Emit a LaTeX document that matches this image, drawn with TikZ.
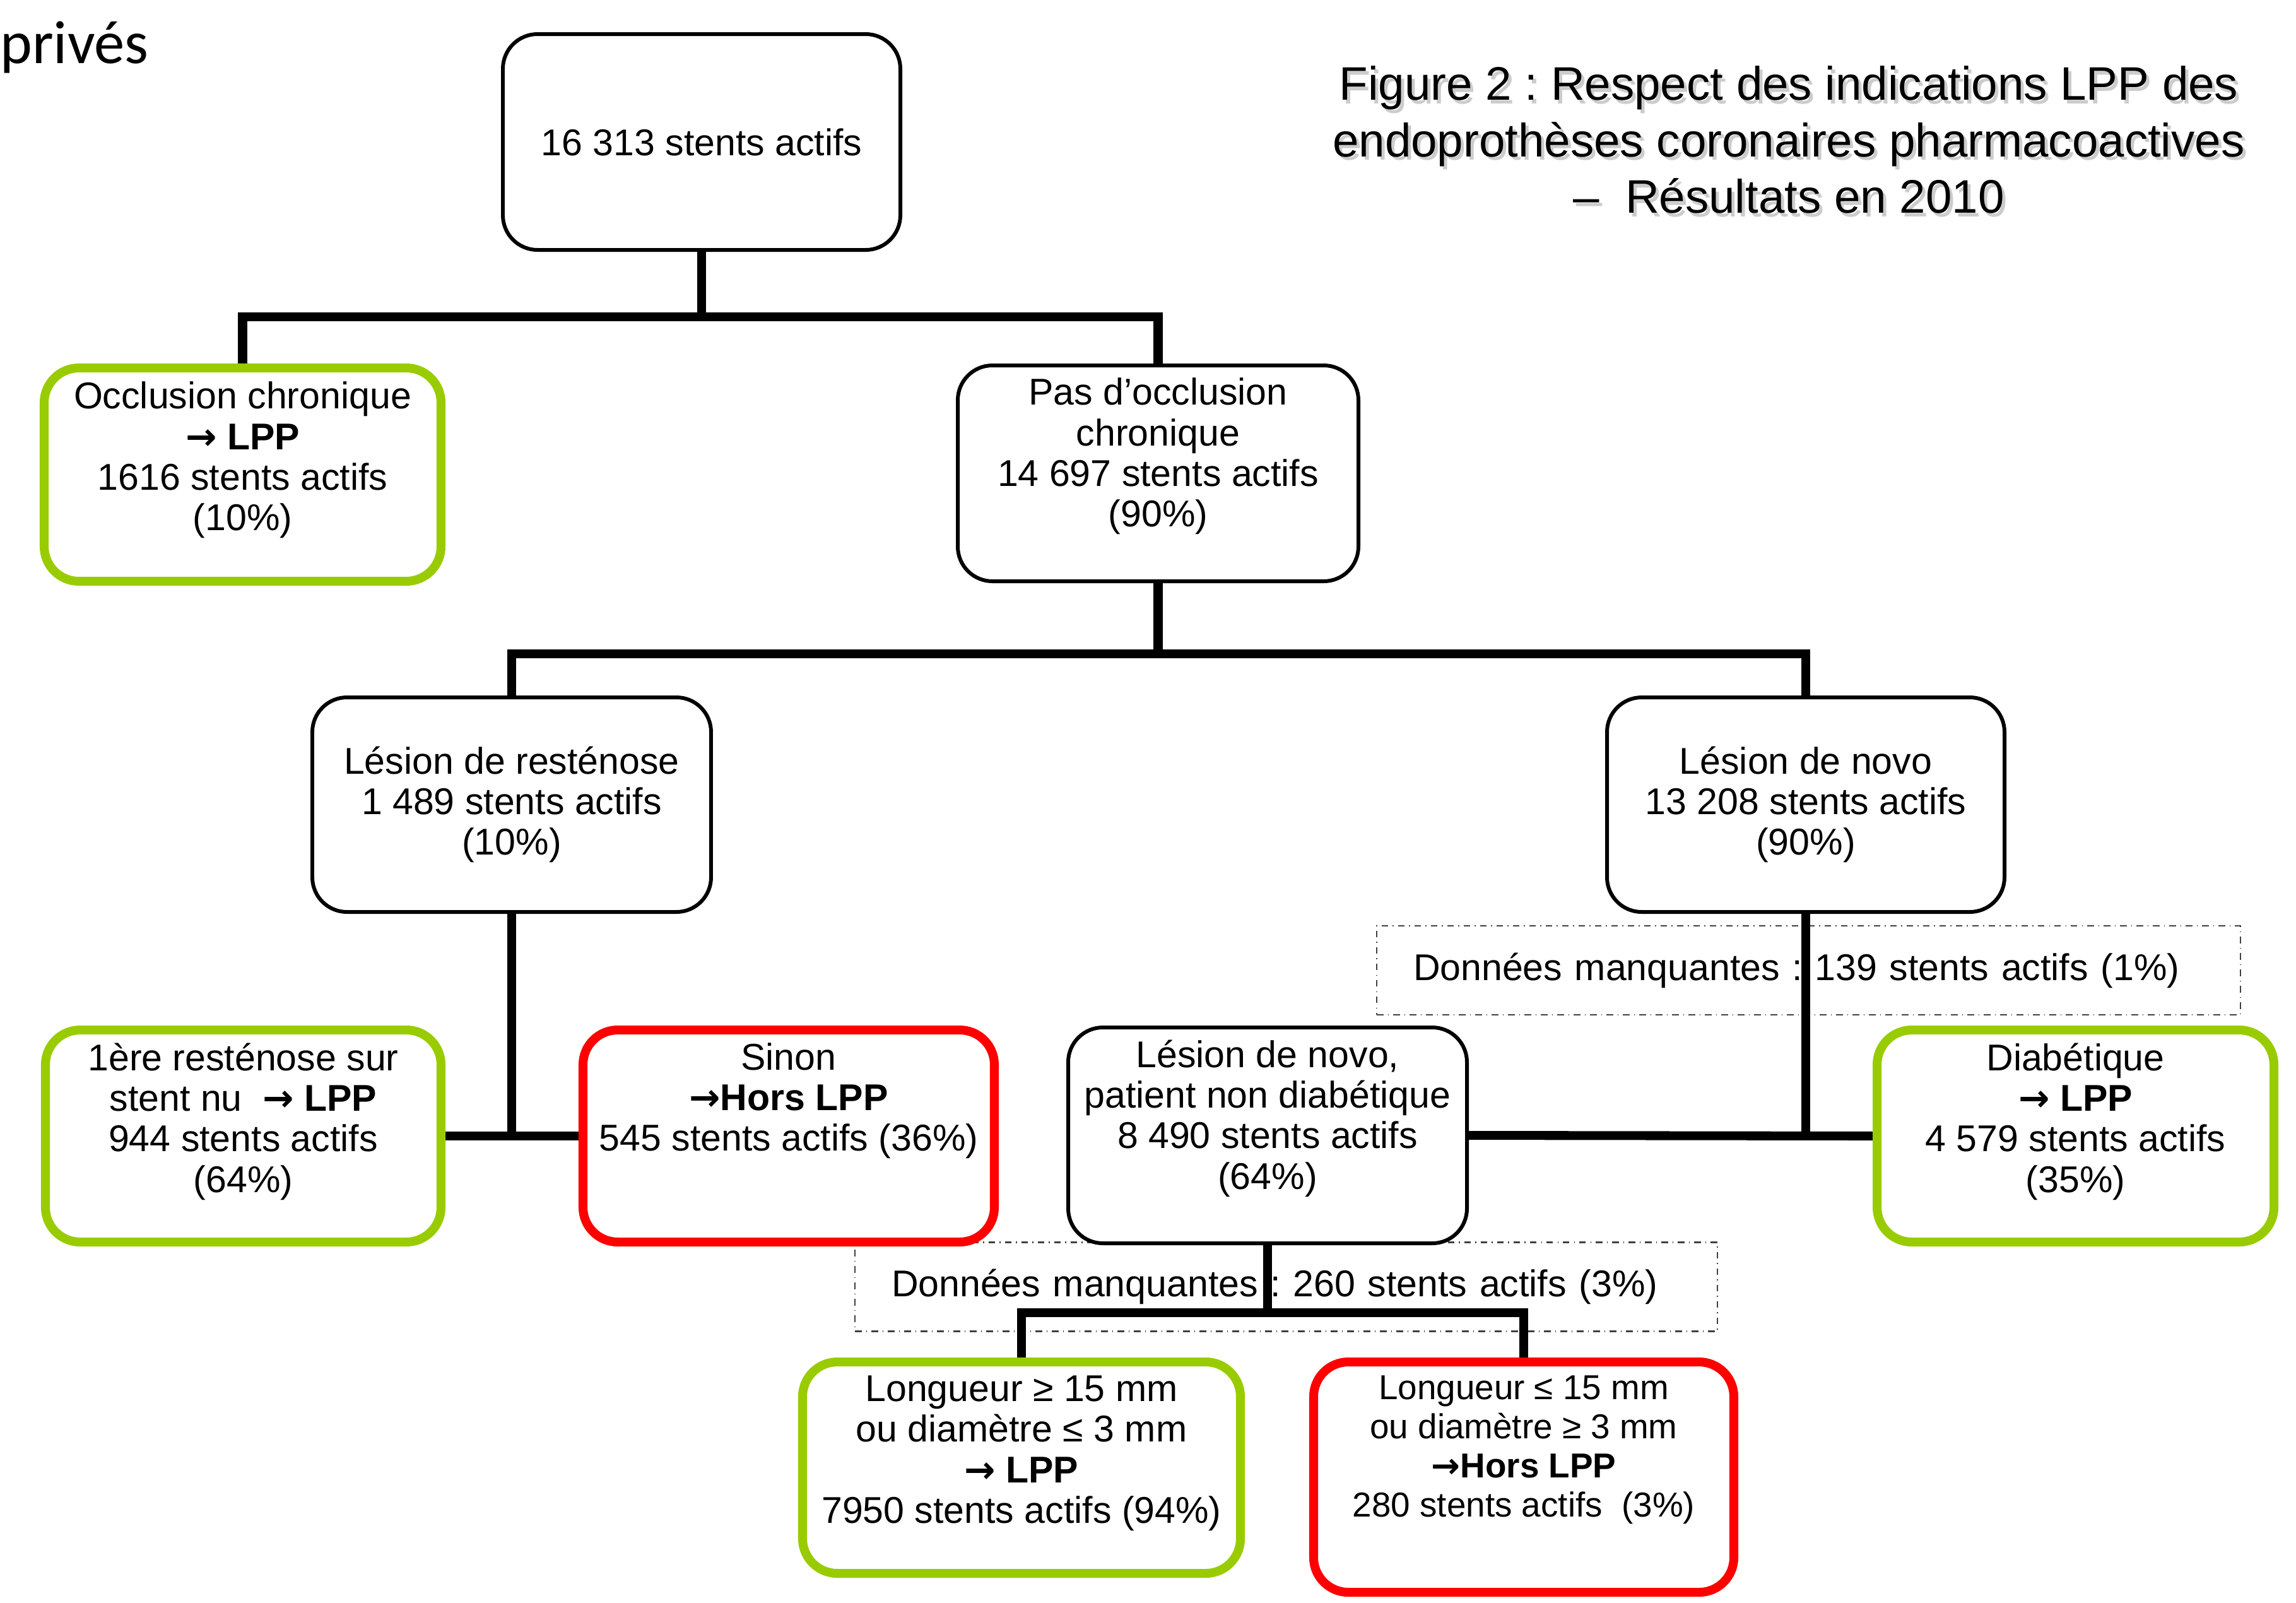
\documentclass[tikz,border=0pt]{standalone}
\usepackage{fontspec}
\setmainfont{Liberation Sans}
\newfontfamily\slidefont{Carlito}
\newfontfamily\arrowfont{DejaVu Sans}
\usetikzlibrary{positioning,backgrounds}
\frenchspacing

\definecolor{lppgreen}{HTML}{99CC00}
\definecolor{horsred}{HTML}{FF0000}
\definecolor{dashgray}{HTML}{404040}

\newcommand{\boxfont}{\fontsize{16.8}{18.3}\selectfont}
\newcommand{\smallboxfont}{\fontsize{15.6}{17.6}\selectfont}
\newcommand{\lpparrow}{{\arrowfont\bfseries →}}
% invisible strut that lifts the text inside a box
\newcommand{\dropstrut}[1]{\rule[-#1]{0pt}{#1}}

\tikzset{
    % Base box style
    stat box/.style={
        rectangle,
        rounded corners=0.55cm,
        align=center,
        font=\boxfont,
        draw=#1,
        fill=white,
        line width=1.7pt,
        inner sep=2pt
    },
    stat box/.default=black,
    % Box inside the LPP indications
    lpp box/.style={stat box=lppgreen, line width=4pt},
    % Box outside the LPP indications
    hors box/.style={stat box=horsred, line width=4pt},
    % Missing data frame
    missing/.style={
        rectangle,
        draw=dashgray,
        dash dot,
        line width=0.6pt,
        font=\boxfont,
        align=left,
        inner xsep=0.58cm,
        minimum height=1.41cm
    },
    % Tree connector
    link/.style={line width=4pt, draw=black},
    % Title
    title text/.style={
        font=\fontsize{21.2}{25.5}\selectfont,
        align=center
    }
}

\begin{document}
\begin{tikzpicture}
    \useasboundingbox (0,0) rectangle (36.39,-25.39);

    % Slide leftover and title
    \node[anchor=base west, font=\slidefont\fontsize{27.5}{33}\selectfont] (prives) at (-0.12,-1.00) {privés};
    \node[title text, text=gray!40] (titleshadow) at (28.40,-2.27) {Figure 2 : Respect des indications LPP des\\ endoprothèses coronaires pharmacoactives\\ –\ \ Résultats en 2010};
    \node[title text] (title) at (28.35,-2.215) {Figure 2 : Respect des indications LPP des\\ endoprothèses coronaires pharmacoactives\\ –\ \ Résultats en 2010};

    % Level 0
    \node[stat box, minimum width=6.30cm, minimum height=3.42cm] (total) at (11.12,-2.25) {16 313 stents actifs};

    % Level 1
    \node[lpp box, minimum width=6.29cm, minimum height=3.38cm] (occl) at (3.845,-7.52) {Occlusion chronique\\ \textbf{\lpparrow\ LPP}\\ 1616 stents actifs\\ (10\%)\dropstrut{0.58cm}};
    \node[stat box, minimum width=6.35cm, minimum height=3.42cm] (pasocc) at (18.355,-7.50) {Pas d’occlusion\\ chronique\\ 14 697 stents actifs\\ (90\%)\dropstrut{0.66cm}};

    % Level 2
    \node[stat box, minimum width=6.32cm, minimum height=3.40cm] (resten) at (8.11,-12.75) {Lésion de resténose\\ 1 489 stents actifs\\ (10\%)};
    \node[stat box, minimum width=6.30cm, minimum height=3.40cm] (novo) at (28.62,-12.75) {Lésion de novo\\ 13 208 stents actifs\\ (90\%)};

    % Level 3
    \node[lpp box, minimum width=6.27cm, minimum height=3.36cm] (premiere) at (3.855,-18.00) {1ère resténose sur\\ stent nu\ \ \textbf{\lpparrow\ LPP}\\ 944 stents actifs\\ (64\%)\dropstrut{0.58cm}};
    \node[hors box, minimum width=6.52cm, minimum height=3.36cm] (sinon) at (12.50,-18.00) {Sinon\\ \textbf{\lpparrow Hors LPP}\\ 545 stents actifs (36\%)\dropstrut{1.24cm}};
    \node[stat box, minimum width=6.32cm, minimum height=3.42cm] (nondiab) at (20.09,-17.99) {Lésion de novo,\\ patient non diabétique\\ 8 490 stents actifs\\ (64\%)\dropstrut{0.66cm}};
    \node[lpp box, minimum width=6.29cm, minimum height=3.36cm] (diab) at (32.895,-18.00) {Diabétique\\ \textbf{\lpparrow\ LPP}\\ 4 579 stents actifs\\ (35\%)\dropstrut{0.58cm}};

    % Level 4
    \node[lpp box, minimum width=6.94cm, minimum height=3.35cm] (longge) at (16.19,-23.255) {Longueur ≥ 15 mm\\ ou diamètre ≤ 3 mm\\ \textbf{\lpparrow\ LPP}\\ 7950 stents actifs (94\%)\dropstrut{0.58cm}};
    \node[hors box, font=\smallboxfont, minimum width=6.66cm, minimum height=3.65cm] (longle) at (24.15,-23.405) {Longueur ≤ 15 mm\\ ou diamètre ≥ 3 mm\\ \textbf{\lpparrow Hors LPP}\\ 280 stents actifs\ \ (3\%)\dropstrut{0.98cm}};

    \begin{scope}[on background layer]
        % Missing data
        \node[missing, text width=12.53cm] (miss1) at (28.665,-15.375) {Données manquantes : 139 stents actifs (1\%)};
        \node[missing, text width=12.51cm] (miss2) at (20.385,-20.39) {Données manquantes : 260 stents actifs (3\%)};

        % Connections
        \draw[link] (total.south) -- ++(0,-1.03) coordinate (split0) -| (occl.north);
        \draw[link] (split0) -| (pasocc.north);

        \draw[link] (pasocc.south) -- ++(0,-1.12) coordinate (split1) -| (resten.north);
        \draw[link] (split1) -| (novo.north);

        \draw[link] (resten.south) -- (resten.south |- premiere.east);
        \draw[link] (premiere.east) -- (sinon.west);
        \draw[link] (novo.south) -- (novo.south |- diab.west);
        \draw[link] (nondiab.east) -- (diab.west);

        \draw[link] (nondiab.south) -- ++(0,-1.07) coordinate (split2) -| (longge.north);
        \draw[link] (split2) -| (longle.north);
    \end{scope}

\end{tikzpicture}
\end{document}
